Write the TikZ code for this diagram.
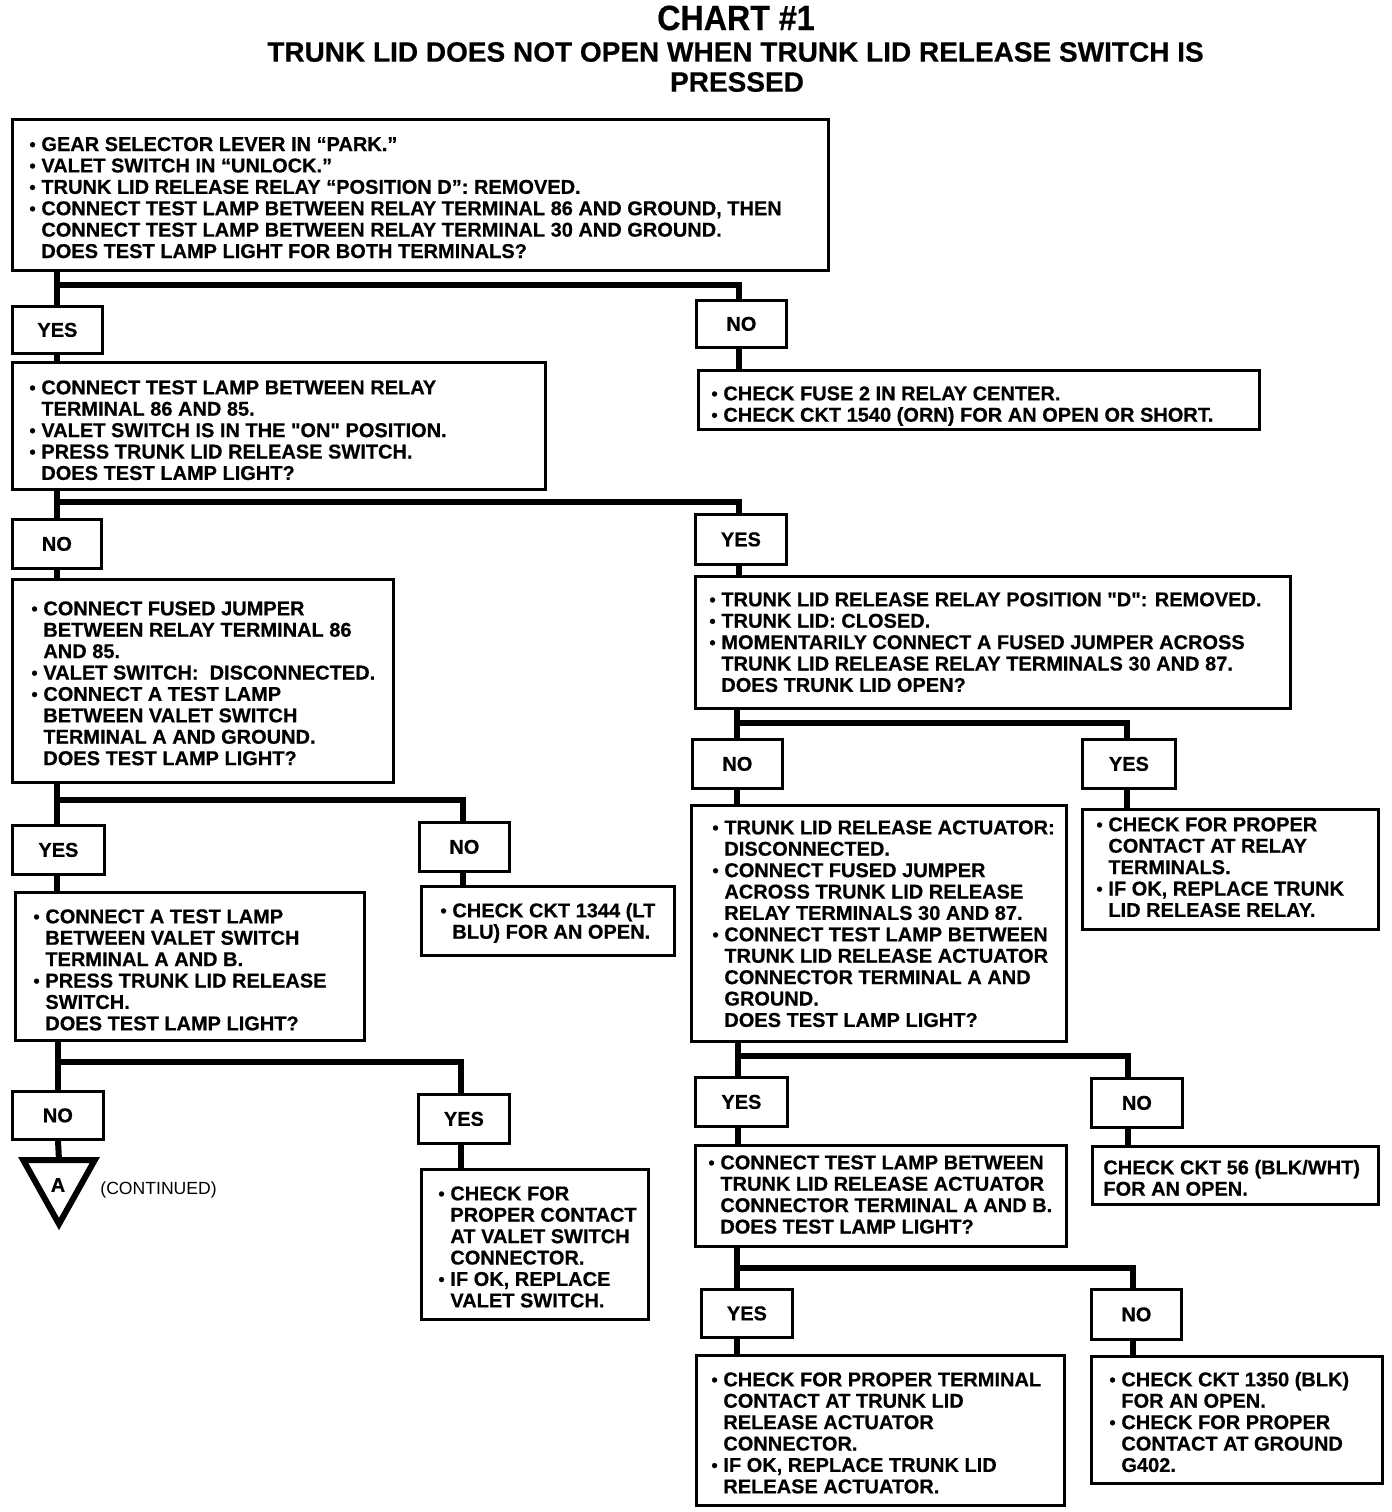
\documentclass[tikz,border=0pt]{standalone}
\usepackage{fontspec}
\setmainfont{Liberation Sans}[BoldFeatures={FakeBold=0.5}]
\newfontfamily\nomap{Liberation Sans}[BoldFeatures={FakeBold=0.5}]
\usepackage{graphicx}
\newcommand{\bu}{\makebox[6pt][l]{\raisebox{0.2pt}{\scalebox{0.9}{•}}}}
\newcommand{\ii}{\hspace*{6pt}}
\newcommand{\st}{\rule{0pt}{8pt}}
\newcommand{\sq}{{\nomap\bfseries"}}
\begin{document}
\begin{tikzpicture}[x=0.5pt,y=-0.5pt,
  box/.style={draw, line width=1.4pt, inner sep=0pt, anchor=north west},
  sbox/.style={box, font=\fontsize{10}{12}\selectfont\bfseries},
  txt/.style={inner sep=0pt, anchor=north west, align=left, font=\fontsize{10}{10.7}\selectfont\bfseries},
  conn/.style={line width=3pt, line cap=butt, line join=miter}]
\useasboundingbox[fill=white] (0,0) rectangle (1392,1512);

% titles
\node[inner sep=0pt, font=\fontsize{17.5}{19}\selectfont\bfseries] (title) at (736,18) {\scalebox{0.92}[1]{CHART \#1}};
\node[inner sep=0pt, font=\fontsize{14}{16}\selectfont\bfseries] (sub1) at (735.5,52) {TRUNK LID DOES NOT OPEN WHEN TRUNK LID RELEASE SWITCH IS};
\node[inner sep=0pt, font=\fontsize{14}{16}\selectfont\bfseries] (sub2) at (737,82) {PRESSED};

% big boxes
\node[box, minimum width=408pt, minimum height=75.5pt] (b1) at (11,118) {};
\node[box, minimum width=266.5pt, minimum height=63.5pt] (b2) at (11,361) {};
\node[box, minimum width=280.5pt, minimum height=29.5pt] (b3) at (697,369) {};
\node[box, minimum width=190.5pt, minimum height=101.5pt] (b4) at (11,578) {};
\node[box, minimum width=297.5pt, minimum height=66pt] (b5) at (694,575) {};
\node[box, minimum width=174.5pt, minimum height=74pt] (b6) at (14,891) {};
\node[box, minimum width=126.5pt, minimum height=34.5pt] (b7) at (420,885) {};
\node[box, minimum width=187.5pt, minimum height=118pt] (b8) at (690,804) {};
\node[box, minimum width=148pt, minimum height=60pt] (b9) at (1081,808) {};
\node[box, minimum width=113.5pt, minimum height=75pt] (b10) at (420,1168) {};
\node[box, minimum width=185.5pt, minimum height=50.5pt] (b11) at (694,1144) {};
\node[box, minimum width=143pt, minimum height=29pt] (b12) at (1091,1145) {};
\node[box, minimum width=184pt, minimum height=75pt] (b13) at (695,1354) {};
\node[box, minimum width=145.5pt, minimum height=63.5pt] (b14) at (1090,1355) {};

% small boxes
\node[sbox, minimum width=45pt, minimum height=23.5pt] (y1) at (11,305) {YES};
\node[sbox, minimum width=45pt, minimum height=23.5pt] (n1) at (695,299) {NO};
\node[sbox, minimum width=44.5pt, minimum height=24.5pt] (n2) at (11,518) {NO};
\node[sbox, minimum width=45.5pt, minimum height=25pt] (y2) at (694,513) {YES};
\node[sbox, minimum width=46pt, minimum height=24.5pt] (y3) at (11,824) {YES};
\node[sbox, minimum width=45pt, minimum height=24.5pt] (n3) at (418,821) {NO};
\node[sbox, minimum width=45pt, minimum height=24.5pt] (n4) at (691,738) {NO};
\node[sbox, minimum width=46.5pt, minimum height=24.5pt] (y4) at (1081,738) {YES};
\node[sbox, minimum width=45.5pt, minimum height=24pt] (n5) at (11,1090) {NO};
\node[sbox, minimum width=45.5pt, minimum height=24.5pt] (y5) at (417,1093) {YES};
\node[sbox, minimum width=46pt, minimum height=24.5pt] (y6) at (694,1076) {YES};
\node[sbox, minimum width=45.5pt, minimum height=24.5pt] (n6) at (1090,1077) {NO};
\node[sbox, minimum width=45.5pt, minimum height=24pt] (y7) at (700,1288) {YES};
\node[sbox, minimum width=45pt, minimum height=25pt] (n7) at (1090,1288) {NO};

% texts
\node[txt] (t1) at (29,134.6) {\st\bu GEAR SELECTOR LEVER IN “PARK.”\\
\bu VALET SWITCH IN “UNLOCK.”\\
\bu TRUNK LID RELEASE RELAY “POSITION D”: REMOVED.\\
\bu CONNECT TEST LAMP BETWEEN RELAY TERMINAL 86 AND GROUND, THEN\\
\ii CONNECT TEST LAMP BETWEEN RELAY TERMINAL 30 AND GROUND.\\
\ii DOES TEST LAMP LIGHT FOR BOTH TERMINALS?};
\node[txt] (t2) at (29,377.9) {\st\bu CONNECT TEST LAMP BETWEEN RELAY\\
\ii TERMINAL 86 AND 85.\\
\bu VALET SWITCH IS IN THE \sq ON\sq\ POSITION.\\
\bu PRESS TRUNK LID RELEASE SWITCH.\\
\ii DOES TEST LAMP LIGHT?};
\node[txt] (t3) at (711,383.9) {\st\bu CHECK FUSE 2 IN RELAY CENTER.\\
\bu CHECK CKT 1540 (ORN) FOR AN OPEN OR SHORT.};
\node[txt] (t4) at (31,598.9) {\st\bu CONNECT FUSED JUMPER\\
\ii BETWEEN RELAY TERMINAL 86\\
\ii AND 85.\\
\bu VALET SWITCH:\ \ DISCONNECTED.\\
\bu CONNECT A TEST LAMP\\
\ii BETWEEN VALET SWITCH\\
\ii TERMINAL A AND GROUND.\\
\ii DOES TEST LAMP LIGHT?};
\node[txt] (t5) at (709,589.9) {\st\bu TRUNK LID RELEASE RELAY POSITION \sq D\sq: REMOVED.\\
\bu TRUNK LID: CLOSED.\\
\bu MOMENTARILY CONNECT A FUSED JUMPER ACROSS\\
\ii TRUNK LID RELEASE RELAY TERMINALS 30 AND 87.\\
\ii DOES TRUNK LID OPEN?};
\node[txt] (t6) at (33,906.9) {\st\bu CONNECT A TEST LAMP\\
\ii BETWEEN VALET SWITCH\\
\ii TERMINAL A AND B.\\
\bu PRESS TRUNK LID RELEASE\\
\ii SWITCH.\\
\ii DOES TEST LAMP LIGHT?};
\node[txt] (t7) at (440,900.9) {\st\bu CHECK CKT 1344 (LT\\
\ii BLU) FOR AN OPEN.};
\node[txt] (t8) at (712,817.9) {\st\bu TRUNK LID RELEASE ACTUATOR:\\
\ii DISCONNECTED.\\
\bu CONNECT FUSED JUMPER\\
\ii ACROSS TRUNK LID RELEASE\\
\ii RELAY TERMINALS 30 AND 87.\\
\bu CONNECT TEST LAMP BETWEEN\\
\ii TRUNK LID RELEASE ACTUATOR\\
\ii CONNECTOR TERMINAL A AND\\
\ii GROUND.\\
\ii DOES TEST LAMP LIGHT?};
\node[txt] (t9) at (1096,814.9) {\st\bu CHECK FOR PROPER\\
\ii CONTACT AT RELAY\\
\ii TERMINALS.\\
\bu IF OK, REPLACE TRUNK\\
\ii LID RELEASE RELAY.};
\node[txt] (t10) at (438,1183.9) {\st\bu CHECK FOR\\
\ii PROPER CONTACT\\
\ii AT VALET SWITCH\\
\ii CONNECTOR.\\
\bu IF OK, REPLACE\\
\ii VALET SWITCH.};
\node[txt] (t11) at (708,1152.9) {\st\bu CONNECT TEST LAMP BETWEEN\\
\ii TRUNK LID RELEASE ACTUATOR\\
\ii CONNECTOR TERMINAL A AND B.\\
\ii DOES TEST LAMP LIGHT?};
\node[txt] (t12) at (1103,1157.9) {\st CHECK CKT 56 (BLK/WHT)\\
FOR AN OPEN.};
\node[txt] (t13) at (711,1369.9) {\st\bu CHECK FOR PROPER TERMINAL\\
\ii CONTACT AT TRUNK LID\\
\ii RELEASE ACTUATOR\\
\ii CONNECTOR.\\
\bu IF OK, REPLACE TRUNK LID\\
\ii RELEASE ACTUATOR.};
\node[txt] (t14) at (1109,1369.9) {\st\bu CHECK CKT 1350 (BLK)\\
\ii FOR AN OPEN.\\
\bu CHECK FOR PROPER\\
\ii CONTACT AT GROUND\\
\ii G402.};

% junction coordinates
\coordinate (j1) at (57,285);   \coordinate (k1) at (739,285);
\coordinate (j2) at (57,502);   \coordinate (k2) at (739,502);
\coordinate (j3) at (57,800);   \coordinate (k3) at (463,800);
\coordinate (j4) at (737,723);  \coordinate (k4) at (1127,723);
\coordinate (j5) at (58,1062);  \coordinate (k5) at (461,1062);
\coordinate (j6) at (738,1056); \coordinate (k6) at (1128,1056);
\coordinate (j7) at (737,1268); \coordinate (k7) at (1133,1268);

% connectors
\draw[conn] (b1.south -| j1) -- (y1.north -| j1);
\draw[conn] (j1) -- (k1) -- (n1.north -| k1);
\draw[conn] (y1.south -| j1) -- (b2.north -| j1);
\draw[conn] (n1.south -| k1) -- (b3.north -| k1);

\draw[conn] (b2.south -| j2) -- (n2.north -| j2);
\draw[conn] (j2) -- (k2) -- (y2.north -| k2);
\draw[conn] (n2.south -| j2) -- (b4.north -| j2);
\draw[conn] (y2.south -| k2) -- (b5.north -| k2);

\draw[conn] (b4.south -| j3) -- (y3.north -| j3);
\draw[conn] (j3) -- (k3) -- (n3.north -| k3);
\draw[conn] (y3.south -| j3) -- (b6.north -| j3);
\draw[conn] (n3.south -| k3) -- (b7.north -| k3);

\draw[conn] (b5.south -| j4) -- (n4.north -| j4);
\draw[conn] (j4) -- (k4) -- (y4.north -| k4);
\draw[conn] (n4.south -| j4) -- (b8.north -| j4);
\draw[conn] (y4.south -| k4) -- (b9.north -| k4);

\draw[conn] (b6.south -| j5) -- (n5.north -| j5);
\draw[conn] (j5) -- (k5) -- (y5.north -| k5);
\draw[conn] (y5.south -| k5) -- (b10.north -| k5);

\draw[conn] (b8.south -| j6) -- (y6.north -| j6);
\draw[conn] (j6) -- (k6) -- (n6.north -| k6);
\draw[conn] (y6.south -| j6) -- (b11.north -| j6);
\draw[conn] (n6.south -| k6) -- (b12.north -| k6);

\draw[conn] (b11.south -| j7) -- (y7.north -| j7);
\draw[conn] (j7) -- (k7) -- (n7.north -| k7);
\draw[conn] (y7.south -| j7) -- (b13.north -| j7);
\draw[conn] (n7.south -| k7) -- (b14.north -| k7);

% off-page connector triangle
\coordinate (tri) at (59,1160);
\draw[conn] (n5.south -| j5) -- (tri);
\draw[conn] (23.2,1160) -- (94.8,1160) -- (59,1224) -- cycle;
\node[inner sep=0pt, font=\fontsize{10}{12}\selectfont\bfseries] (A) at (58,1185) {A};
\node[inner sep=0pt, anchor=west, font=\fontsize{8.8}{10}\selectfont] (cont) at (100,1190) {(CONTINUED)};
\end{tikzpicture}
\end{document}
